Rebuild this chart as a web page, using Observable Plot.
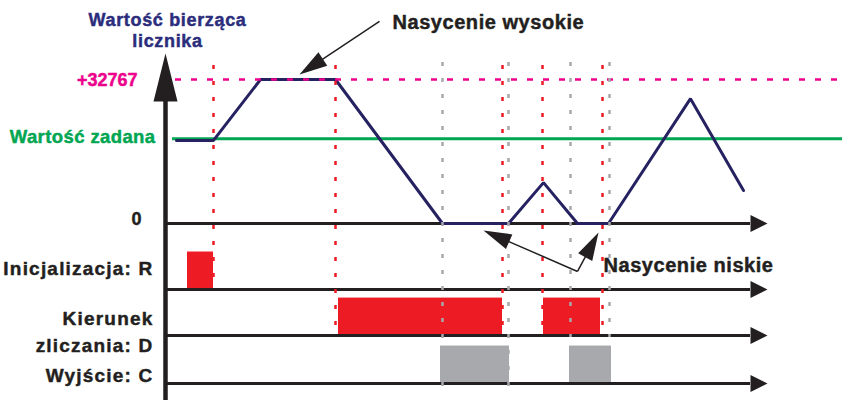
<!DOCTYPE html>
<html><head><meta charset="utf-8">
<script src="https://cdn.jsdelivr.net/npm/d3@7"></script>
<script src="https://cdn.jsdelivr.net/npm/@observablehq/plot@0.6"></script>
<style>
html,body{margin:0;padding:0;background:#fff;}
</style></head>
<body><div id="chart"></div>
<script>
// ---- data ----
const SAT = 32767;
const counterTime  = [1.2, 4.9, 9.6, 17.1, 27.8, 34.4, 37.9, 41.3, 44.4, 52.6, 57.9];
const counterValue = [18900, 18900, 32767, 32767, 0, 0, 9300, 0, 0, 28400, 7500];
const setpointValue = 19300;
const tickLabels = ["+32767", "Wartość zadana", "0"];
const tickValues = [32767, 19300, 0];
const laneNames  = ["R", "D", "C"];
const laneLabels = ["Inicjalizacja: R", "Kierunek\nzliczania: D", "Wyjście: C"];
const laneLevel  = [-0.458, -0.778, -1.111];          // lane baselines, in units of SAT
const pulseLane  = ["R", "D", "D", "C", "C"];
const pulseStart = [2.3, 17.4, 37.9, 27.6, 40.5];
const pulseEnd   = [4.9, 33.8, 43.6, 34.5, 44.7];
const redEventTime  = [4.9, 17.1, 33.8, 37.8, 43.8];
const redEventLane  = ["R", "D", "D", "D", "D"];
const grayEventTime = [27.8, 34.4, 40.6, 44.5];
const grayEventLane = ["C", "C", "D", "D"];
const annotationText = ["Nasycenie wysokie", "Nasycenie niskie"];
const annotationAt   = [[22.8, 1.352], [43.9, -0.34]];
const arrowFrom = [[21.5, 1.403], [41.3, -0.333], [41.3, -0.333]];
const arrowTo   = [[13.5, 1.035], [31.9, -0.049], [43.4, -0.0625]];

// ---- layout ----
const W = 842, H = 400;
const xDomain = [-16.4, 67.8], yDomain = [-1.2292, 1.5486];
const xs = d3.scaleLinear(xDomain, [0, W]);
const ys = d3.scaleLinear(yDomain, [H, 0]);
const lane = name => laneLevel[laneNames.indexOf(name)];
const BLACK = "#231f20", RED = "#ed1c24", GRAY = "#a7a9ac", PINK = "#ec008c", GREEN = "#00a651", NAVY = "#262262", TITLE = "#2b2d7c";
const FONT = "Liberation Sans, Arial, Helvetica, sans-serif";

const counter = counterTime.map((t, i) => ({t, v: counterValue[i] / SAT}));
const pulses = pulseStart.map((s, i) => ({s, e: pulseEnd[i], lane: pulseLane[i], y: lane(pulseLane[i])}));
const redRules = redEventTime.map((t, i) => ({t, y2: lane(redEventLane[i])}));
const grayRules = grayEventTime.map((t, i) => ({t, y2: lane(grayEventLane[i]) - (grayEventLane[i] === "C" ? 0.035 : 0.014)}));
const baselines = [0, ...laneLevel];

function arrowHead(len, width) {
  return {draw(ctx) { ctx.moveTo(0, 0); ctx.lineTo(width / 2, len); ctx.lineTo(-width / 2, len); ctx.closePath(); }};
}
const arrows = arrowFrom.map((f, i) => {
  const to = arrowTo[i];
  const dx = xs(to[0]) - xs(f[0]), dy = ys(to[1]) - ys(f[1]);
  const L = Math.hypot(dx, dy);
  const ex = xs(to[0]) - dx / L * 22, ey = ys(to[1]) - dy / L * 22;
  return {x1: f[0], y1: f[1], x2: xs.invert(ex), y2: ys.invert(ey), tx: to[0], ty: to[1],
          rot: Math.atan2(dx, -dy) * 180 / Math.PI};
});

const tickLabelX = [-2.7, -0.9, -2.3];
const tickDy = [7, 4, 2];
const tickColor = [PINK, GREEN, BLACK];
const tickSize = [18, 18.5, 18];
const laneLabelY = [-0.361, -0.889, -1.104];
const textCommon = {fontWeight: "bold", fontFamily: FONT, strokeWidth: 0.45};

const plot = Plot.plot({
  width: W, height: H,
  marginTop: 0, marginRight: 0, marginBottom: 0, marginLeft: 0,
  x: {domain: xDomain, axis: null},
  y: {domain: yDomain, axis: null},
  style: {background: "#fff", overflow: "visible"},
  marks: [
    Plot.rect(pulses, {x1: "s", x2: "e", y1: "y", y2: d => d.y + 0.26, fill: d => d.lane === "C" ? GRAY : RED}),
    Plot.ruleY(baselines, {x1: 0, x2: 58.6, stroke: BLACK, strokeWidth: 3}),
    Plot.ruleX([0.1], {y1: -1.24, y2: 0.9, stroke: BLACK, strokeWidth: 4.5}),
    Plot.ruleY([setpointValue / SAT], {x1: 0.8, x2: 67.8, stroke: GREEN, strokeWidth: 3}),
    Plot.line(counter, {x: "t", y: "v", stroke: NAVY, strokeWidth: 3, strokeLinejoin: "miter"}),
    Plot.ruleY([1], {x1: 1.1, x2: 67.8, stroke: PINK, strokeWidth: 2.5, strokeDasharray: "6,10"}),
    Plot.ruleX(redRules, {x: "t", y1: 1.097, y2: "y2", stroke: RED, strokeWidth: 2.5, strokeDasharray: "4,12"}),
    Plot.ruleX(grayRules, {x: "t", y1: 1.118, y2: "y2", stroke: GRAY, strokeWidth: 2.5, strokeDasharray: "4,12"}),
    // axis arrowheads
    Plot.dot([{t: 0.1, v: 1.18}], {x: "t", y: "v", symbol: arrowHead(48, 24), fill: BLACK, stroke: "none"}),
    Plot.dot(baselines, {x: 60.3, y: d => d, symbol: arrowHead(17, 17), rotate: 90, fill: BLACK, stroke: "none"}),
    // annotation arrows
    Plot.link(arrows, {x1: "x1", y1: "y1", x2: "x2", y2: "y2", stroke: BLACK, strokeWidth: 1.5}),
    Plot.dot(arrows, {x: "tx", y: "ty", symbol: arrowHead(28, 16), rotate: "rot", fill: BLACK, stroke: "none"}),
    // texts
    Plot.text(["Wartość bierząca\nlicznika"], {x: 0.3, y: 1.2257, text: d => d, textAnchor: "middle", lineAnchor: "bottom",
      lineHeight: 1.14, fontSize: 18, fill: TITLE, stroke: TITLE, ...textCommon}),
    ...tickLabels.map((s, i) => Plot.text([s], {x: tickLabelX[i], y: tickValues[i] / SAT, text: d => d, dy: tickDy[i],
      textAnchor: "end", lineAnchor: "bottom", fontSize: tickSize[i], fill: tickColor[i], stroke: tickColor[i], ...textCommon})),
    Plot.text(laneLabels, {x: -1.1, y: (d, i) => laneLabelY[i], text: d => d, textAnchor: "end", lineAnchor: "bottom",
      lineHeight: 1.37, fontSize: 19, fill: BLACK, stroke: BLACK, ...textCommon}),
    Plot.text(annotationText, {x: (d, i) => annotationAt[i][0], y: (d, i) => annotationAt[i][1], text: d => d,
      textAnchor: "start", lineAnchor: "bottom", fontSize: 20, fill: BLACK, stroke: BLACK, ...textCommon})
  ]
});
// letter spacing per text mark (title, three tick labels, lane labels, annotations)
const spacing = [0.66, 0, 0.4, 0, 1.2, 0.55];
d3.select(plot).selectAll("g[aria-label='text']").each(function (_, i) {
  this.setAttribute("letter-spacing", spacing[i] + "px");
});
document.getElementById("chart").appendChild(plot);
</script>
</body></html>
